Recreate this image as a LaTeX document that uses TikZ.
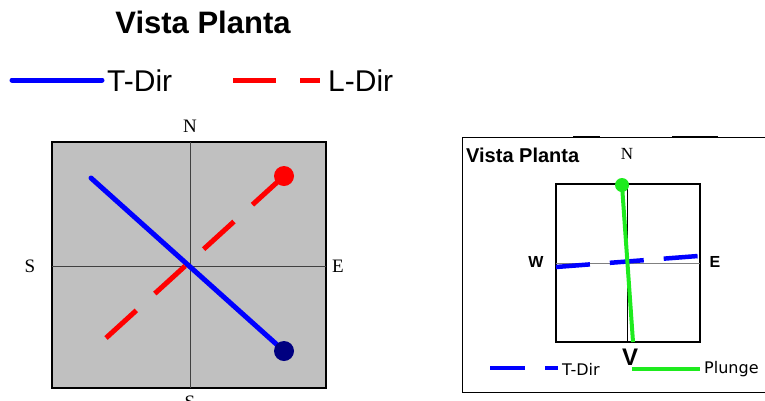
\documentclass[tikz,border=0pt]{standalone}
\usepackage{fontspec}
\setmainfont{Liberation Serif}
\setsansfont{Liberation Sans}
\newfontfamily\legendfont{DejaVu Sans}
\usetikzlibrary{positioning}
\definecolor{plotgray}{RGB}{192,192,192}
\definecolor{dotnavy}{RGB}{0,0,128}
\definecolor{plungegreen}{RGB}{30,235,30}

\begin{document}
\begin{tikzpicture}[x=1pt,y=-1pt,
        title/.style={font=\sffamily\bfseries\fontsize{31}{31}\selectfont},
        legtext/.style={font=\sffamily\fontsize{30}{30}\selectfont, anchor=west, inner sep=0pt},
        compass/.style={font=\rmfamily\fontsize{19}{19}\selectfont, inner sep=0pt},
        smallcompass/.style={font=\rmfamily\fontsize{17}{17}\selectfont, inner sep=0pt},
        boldlabel/.style={font=\sffamily\bfseries\fontsize{16}{16}\selectfont, inner sep=0pt},
        smalltext/.style={font=\legendfont\fontsize{16}{16}\selectfont, anchor=west, inner sep=0pt},
        tdir/.style={draw=blue, line width=5pt, line cap=round},
        ldir/.style={draw=red, line width=5pt, dash pattern=on 41pt off 25pt},
        tdirsmall/.style={draw=blue, line width=4.5pt, dash pattern=on 34pt off 20pt},
        plunge/.style={draw=plungegreen, line width=4pt},
        axis/.style={draw=black!75, line width=1pt}
    ]
        \useasboundingbox (0,0) rectangle (765,400);

        % left plan view
        \node[title] (title) at (203,22) {Vista Planta};
        \coordinate (legT1) at (12,80);
        \coordinate (legT2) at (102,80);
        \draw[tdir] (legT1) -- (legT2);
        \node[legtext] (legTtext) at (107,81) {T-Dir};
        \coordinate (legL1) at (233,80);
        \coordinate (legL2) at (320,80);
        \draw[draw=red, line width=5pt, dash pattern=on 43pt off 24pt] (legL1) -- (legL2);
        \node[legtext] (legLtext) at (328,81) {L-Dir};

        \draw[fill=plotgray, line width=1.5pt] (52,142) rectangle (326,388);
        \draw[axis] (190,142) -- (190,388);
        \draw[axis] (52,266) -- (326,266);
        \node[compass] (north) at (190,126) {N};
        \node[compass] (west) at (30,266) {S};
        \node[compass] (east) at (338,266) {E};
        \node[compass] (south) at (190,402) {S};

        \coordinate (tstart) at (91,178);
        \coordinate (tend) at (284,351);
        \coordinate (lstart) at (106,338);
        \coordinate (lend) at (284,176);
        \draw[tdir] (tstart) -- (tend);
        \draw[ldir] (lstart) -- (lend);
        \fill[dotnavy] (tend) circle (10);
        \fill[red] (lend) circle (10);

        % right plan view
        \draw[line width=0.8pt] (462,392) -- (462,137) -- (770,137);
        \draw[line width=0.8pt] (462,392) -- (770,392);
        \draw[line width=2.5pt] (573,137) -- (600,137);
        \draw[line width=2.5pt] (672,137) -- (718,137);
        \node[font=\sffamily\bfseries\fontsize{20}{20}\selectfont, anchor=west, inner sep=0pt] (subtitle) at (466,155) {Vista Planta};
        \node[smallcompass] (north2) at (627,154) {N};

        \draw[line width=1.2pt] (556,184) rectangle (700,342);
        \draw[line width=0.8pt] (627,184) -- (627,342);
        \draw[draw=gray, line width=1pt] (556,263) -- (700,263);
        \node[boldlabel] (west2) at (536,262) {W};
        \node[boldlabel] (east2) at (715,262) {E};

        \coordinate (bstart) at (556,267);
        \coordinate (bend) at (698,256);
        \coordinate (gstart) at (622,185);
        \coordinate (gend) at (633,342);
        \draw[tdirsmall] (bstart) -- (bend);
        \draw[plunge] (gstart) -- (gend);
        \fill[plungegreen] (gstart) circle (7);
        \node[font=\sffamily\bfseries\fontsize{24}{24}\selectfont, inner sep=0pt] (vlabel) at (630,357) {V};

        \coordinate (legB1) at (490,368);
        \coordinate (legB2) at (558,368);
        \draw[draw=blue, line width=4.5pt, dash pattern=on 35pt off 20pt] (legB1) -- (legB2);
        \node[smalltext] (legBtext) at (562,369) {T-Dir};
        \coordinate (legG1) at (632,369);
        \coordinate (legG2) at (700,369);
        \draw[plunge] (legG1) -- (legG2);
        \node[smalltext] (legGtext) at (704,369) {Plunge};
    \end{tikzpicture}
\end{document}
